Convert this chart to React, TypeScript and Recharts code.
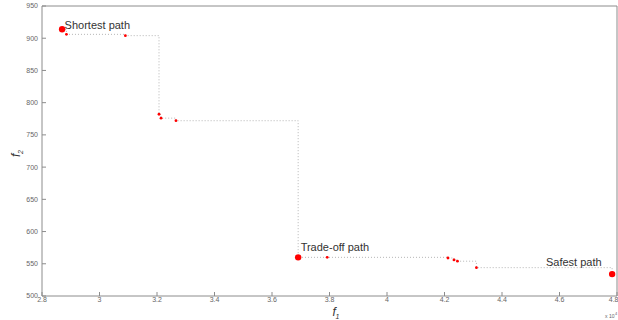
import {
  ComposedChart,
  Line,
  Scatter,
  XAxis,
  YAxis,
  LabelList,
  Label,
} from 'recharts';

// Pareto front values, f1 in units of 10^4
const f1Values = [2.87, 2.885, 3.09, 3.207, 3.214, 3.266, 3.691, 3.792, 4.212, 4.233, 4.245, 4.311, 4.783];
const f2Values = [914, 906, 904, 782, 776, 772, 560, 560, 559, 556, 554, 544, 534];
const pathNames = ['Shortest path', '', '', '', '', '', 'Trade-off path', '', '', '', '', '', 'Safest path'];

const xTicks = [2.8, 3, 3.2, 3.4, 3.6, 3.8, 4, 4.2, 4.4, 4.6, 4.8];
const yTicks = [500, 550, 600, 650, 700, 750, 800, 850, 900, 950];

const AXIS = '#8c8c8c';
const TICK_TEXT = '#666666';
const FONT = '"Liberation Sans", Arial, sans-serif';

const data = f1Values.map((f1, i) => ({ f1, f2: f2Values[i], name: pathNames[i] }));
const smallPoints = data.filter(d => !d.name);
const keyPoints = data.filter(d => d.name);

const SmallDot = (props: any) => {
  const { cx, cy } = props;
  return <circle cx={cx} cy={cy} r={1.4} fill="#ff0000" stroke="none" />;
};

const BigDot = (props: any) => {
  const { cx, cy } = props;
  return <circle cx={cx} cy={cy} r={3.2} fill="#ff0000" stroke="none" />;
};

const PathLabel = (props: any) => {
  const { x, y, value } = props;
  const style = { fontFamily: FONT, fontSize: 11, fill: '#333333' };
  if (value === 'Shortest path') {
    return <text x={x + 7} y={y} dy="0.35em" style={style}>{value}</text>;
  }
  if (value === 'Trade-off path') {
    return <text x={x + 7} y={y - 6} dy="0.35em" style={style}>{value}</text>;
  }
  return <text x={x - 6} y={y - 7} dy="0.35em" textAnchor="end" style={style}>{value}</text>;
};

const XLabel = (props: any) => {
  const { viewBox } = props;
  const cx = viewBox.x + viewBox.width / 2;
  return (
    <g>
      <text x={cx + 3} y={viewBox.y + 20} style={{ fontFamily: FONT, fontSize: 12, fontStyle: 'italic', fill: '#333' }}>
        f
      </text>
      <text x={cx + 6} y={viewBox.y + 23} style={{ fontFamily: FONT, fontSize: 7, fontStyle: 'italic', fill: '#333' }}>
        1
      </text>
      <text x={viewBox.x + viewBox.width - 12} y={viewBox.y + 22} style={{ fontFamily: FONT, fontSize: 5, fill: TICK_TEXT }}>
        x 10
      </text>
      <text x={viewBox.x + viewBox.width - 2} y={viewBox.y + 19} style={{ fontFamily: FONT, fontSize: 4, fill: TICK_TEXT }}>
        4
      </text>
    </g>
  );
};

const YLabel = (props: any) => {
  const { viewBox } = props;
  const x = viewBox.x + 8;
  const y = viewBox.y + viewBox.height / 2;
  return (
    <g transform={`translate(${x},${y}) rotate(-90)`}>
      <text x={-6} y={0} style={{ fontFamily: FONT, fontSize: 12, fontStyle: 'italic', fill: '#333' }}>
        f
      </text>
      <text x={-3} y={3} style={{ fontFamily: FONT, fontSize: 7, fontStyle: 'italic', fill: '#333' }}>
        2
      </text>
    </g>
  );
};

const tickStyle = { fontSize: 7, fill: TICK_TEXT, fontFamily: FONT };

export default function App() {
  return (
    <div style={{ position: 'absolute', left: 0, top: 0, width: 618, height: 320, background: '#fff' }}>
      <ComposedChart
        width={618}
        height={320}
        data={data}
        margin={{ top: 5, right: 0, left: 12, bottom: 0 }}
      >
        <XAxis
          dataKey="f1"
          type="number"
          domain={[2.8, 4.8]}
          ticks={xTicks}
          allowDataOverflow
          height={24}
          stroke={AXIS}
          tickSize={-4}
          tickMargin={5}
          tick={tickStyle}
        >
          <Label content={<XLabel />} />
        </XAxis>
        <XAxis
          xAxisId="top"
          orientation="top"
          type="number"
          domain={[2.8, 4.8]}
          ticks={xTicks}
          height={1}
          stroke={AXIS}
          tickSize={-4}
          tick={false}
        />
        <YAxis
          type="number"
          domain={[500, 950]}
          ticks={yTicks}
          allowDataOverflow
          width={30}
          stroke={AXIS}
          tickSize={-4}
          tickMargin={8}
          tick={tickStyle}
        >
          <Label content={<YLabel />} />
        </YAxis>
        <YAxis
          yAxisId="right"
          orientation="right"
          type="number"
          domain={[500, 950]}
          ticks={yTicks}
          width={1}
          stroke={AXIS}
          tickSize={-4}
          tick={false}
        />
        <Line
          type="stepAfter"
          dataKey="f2"
          stroke="#b5b5b5"
          strokeWidth={1}
          strokeDasharray="1 2"
          dot={false}
          activeDot={false}
          isAnimationActive={false}
        />
        <Scatter data={smallPoints} dataKey="f2" fill="#ff0000" shape={<SmallDot />} isAnimationActive={false} />
        <Scatter data={keyPoints} dataKey="f2" fill="#ff0000" shape={<BigDot />} isAnimationActive={false}>
          <LabelList dataKey="name" content={<PathLabel />} />
        </Scatter>
      </ComposedChart>
    </div>
  );
}
